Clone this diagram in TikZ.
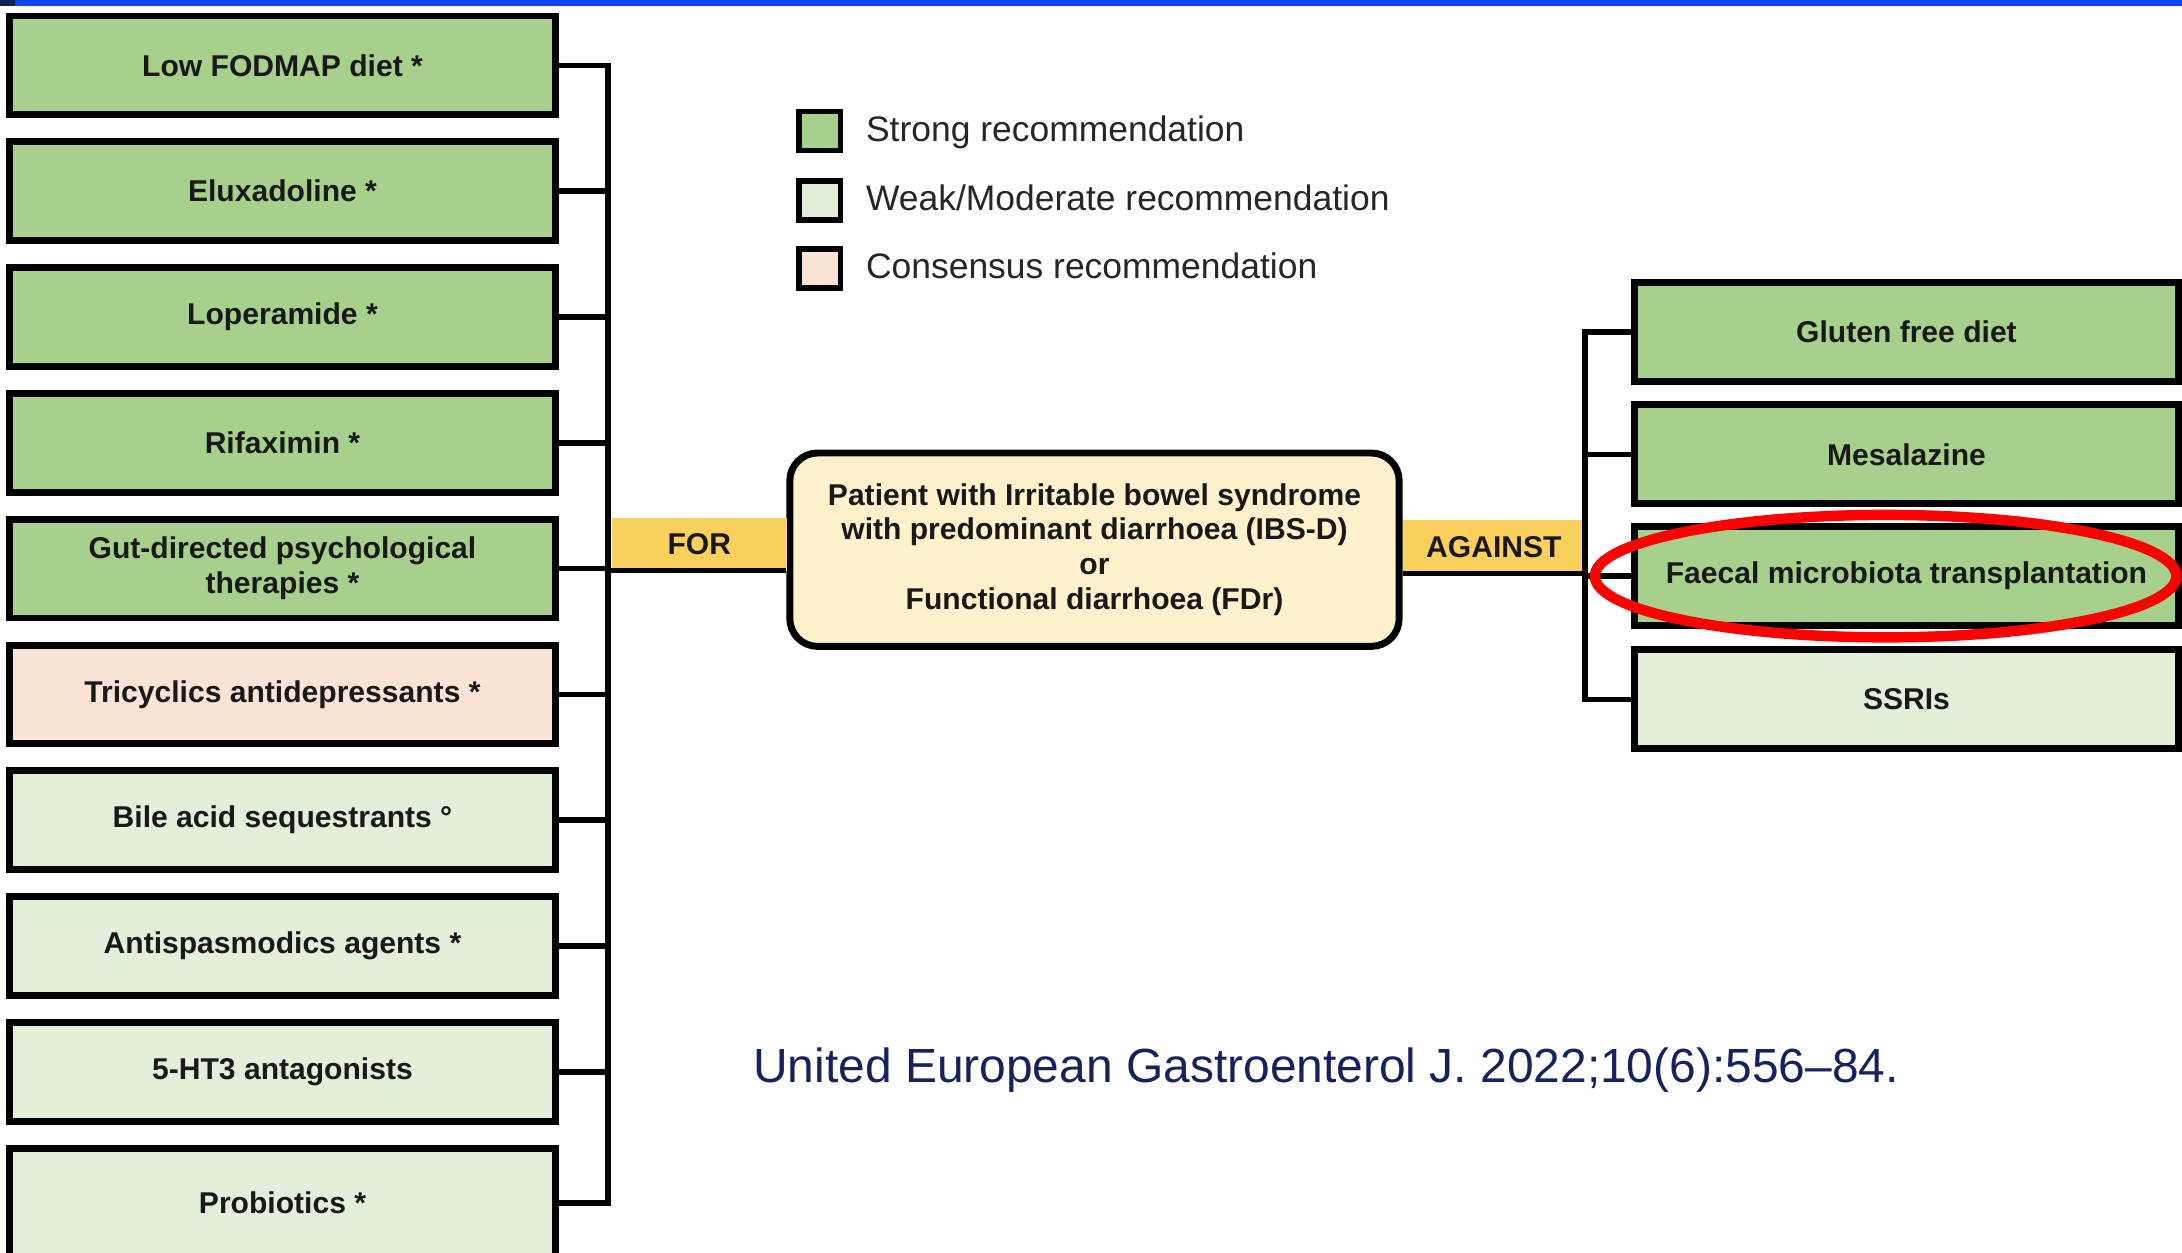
\documentclass[tikz,border=0pt]{standalone}
\usepackage{fontspec}
\setmainfont{Liberation Sans}
\usepackage{tikz}
\usetikzlibrary{positioning}
\definecolor{strongg}{RGB}{168,208,141}
\definecolor{weakg}{RGB}{226,239,217}
\definecolor{consp}{RGB}{251,228,213}
\definecolor{bandy}{RGB}{250,208,92}
\definecolor{patfill}{RGB}{254,241,204}
\definecolor{citeblue}{RGB}{22,34,96}
\definecolor{barblue}{RGB}{18,68,240}
\definecolor{barnavy}{RGB}{20,32,82}

\begin{document}
\begin{tikzpicture}[x=0.02cm, y=-0.02cm,
        box/.style={draw=black, line width=0.1cm, minimum width=7.86cm, minimum height=1.42cm, inner sep=0pt, align=center, font=\bfseries\fontsize{12.3}{14.3}\selectfont, text=black!90},
        link/.style={line width=0.08cm},
        band/.style={fill=bandy, minimum height=0.76cm, inner sep=0pt, font=\bfseries\fontsize{12.3}{14.3}\selectfont, text=black!90},
        legsq/.style={draw=black, line width=0.08cm, minimum width=0.6cm, minimum height=0.56cm, inner sep=0pt},
        legtxt/.style={inner sep=0pt, text height=1.0em, text depth=0.16em, font=\fontsize{14.5}{17}\selectfont, text=black!85}]
        \useasboundingbox (0,0) rectangle (1568,900);
        \clip (0,0) rectangle (1568,900);
        \fill[barblue] (0,0) rectangle (1568,4.5);
        \fill[barnavy] (0,0) rectangle (11,4.5);

        \node[box, fill=strongg] (b1) at (203,47) {Low FODMAP diet *};
        \node[box, fill=strongg] (b2) at (203,137.4) {Eluxadoline *};
        \node[box, fill=strongg] (b3) at (203,227.8) {Loperamide *};
        \node[box, fill=strongg] (b4) at (203,318.2) {Rifaximin *};
        \node[box, fill=strongg] (b5) at (203,408.6) {Gut-directed psychological\\therapies *};
        \node[box, fill=consp] (b6) at (203,499) {Tricyclics antidepressants *};
        \node[box, fill=weakg] (b7) at (203,589.4) {Bile acid sequestrants °};
        \node[box, fill=weakg] (b8) at (203,679.8) {Antispasmodics agents *};
        \node[box, fill=weakg] (b9) at (203,770.2) {5-HT3 antagonists};
        \node[box, fill=weakg, minimum height=1.56cm] (b10) at (203,864.5) {Probiotics *};

        \node[box, fill=patfill, rounded corners=0.4cm, minimum width=8.76cm, minimum height=2.78cm] (pat) at (786.5,395) {Patient with Irritable bowel syndrome\\with predominant diarrhoea (IBS-D)\\or\\Functional diarrhoea (FDr)};

        \node[band, minimum width=2.52cm] (for) at (502.5,391) {FOR};
        \node[band, minimum width=2.62cm] (against) at (1073.5,393) {AGAINST};

        \node[box, fill=strongg, minimum width=7.82cm] (r1) at (1370,238.5) {Gluten free diet};
        \node[box, fill=strongg, minimum width=7.82cm] (r2) at (1370,326.5) {Mesalazine};
        \node[box, fill=strongg, minimum width=7.82cm] (r3) at (1370,414) {Faecal microbiota transplantation};
        \node[box, fill=weakg, minimum width=7.82cm] (r4) at (1370,502.5) {SSRIs};

        \coordinate (lbr) at (437,410);
        \coordinate (rbr) at (1139,412);
        \draw[link] (b1.east) -| (b10.east -| lbr) -- (b10.east);
        \draw[link] (b2.east) -- (b2.east -| lbr);
        \draw[link] (b3.east) -- (b3.east -| lbr);
        \draw[link] (b4.east) -- (b4.east -| lbr);
        \draw[link] (b5.east) -- (b5.east -| lbr);
        \draw[link] (b6.east) -- (b6.east -| lbr);
        \draw[link] (b7.east) -- (b7.east -| lbr);
        \draw[link] (b8.east) -- (b8.east -| lbr);
        \draw[link] (b9.east) -- (b9.east -| lbr);
        \draw[link] (lbr) -- (lbr -| pat.west);
        \draw[link] (r1.west) -| (r4.west -| rbr) -- (r4.west);
        \draw[link] (r2.west) -- (r2.west -| rbr);
        \draw[link] (r3.west) -- (r3.west -| rbr);
        \draw[link] (pat.east |- rbr) -- (rbr);

        \node[legsq, fill=strongg] (sq1) at (589,94) {};
        \node[legsq, fill=weakg] (sq2) at (589,144) {};
        \node[legsq, fill=consp] (sq3) at (589,193) {};
        \node[legtxt, right=0.32cm of sq1] (lt1) {Strong recommendation};
        \node[legtxt, right=0.32cm of sq2] (lt2) {Weak/Moderate recommendation};
        \node[legtxt, right=0.32cm of sq3] (lt3) {Consensus recommendation};

        \node[anchor=west, inner sep=0pt, text=citeblue, font=\fontsize{19.6}{23}\selectfont] (ref) at (541,769) {United European Gastroenterol J. 2022;10(6):556–84.};

        \draw[red, line width=0.15cm] ([xshift=-0.3cm]r3.center) ellipse [x radius=4.18cm, y radius=0.88cm];
    \end{tikzpicture}
\end{document}
